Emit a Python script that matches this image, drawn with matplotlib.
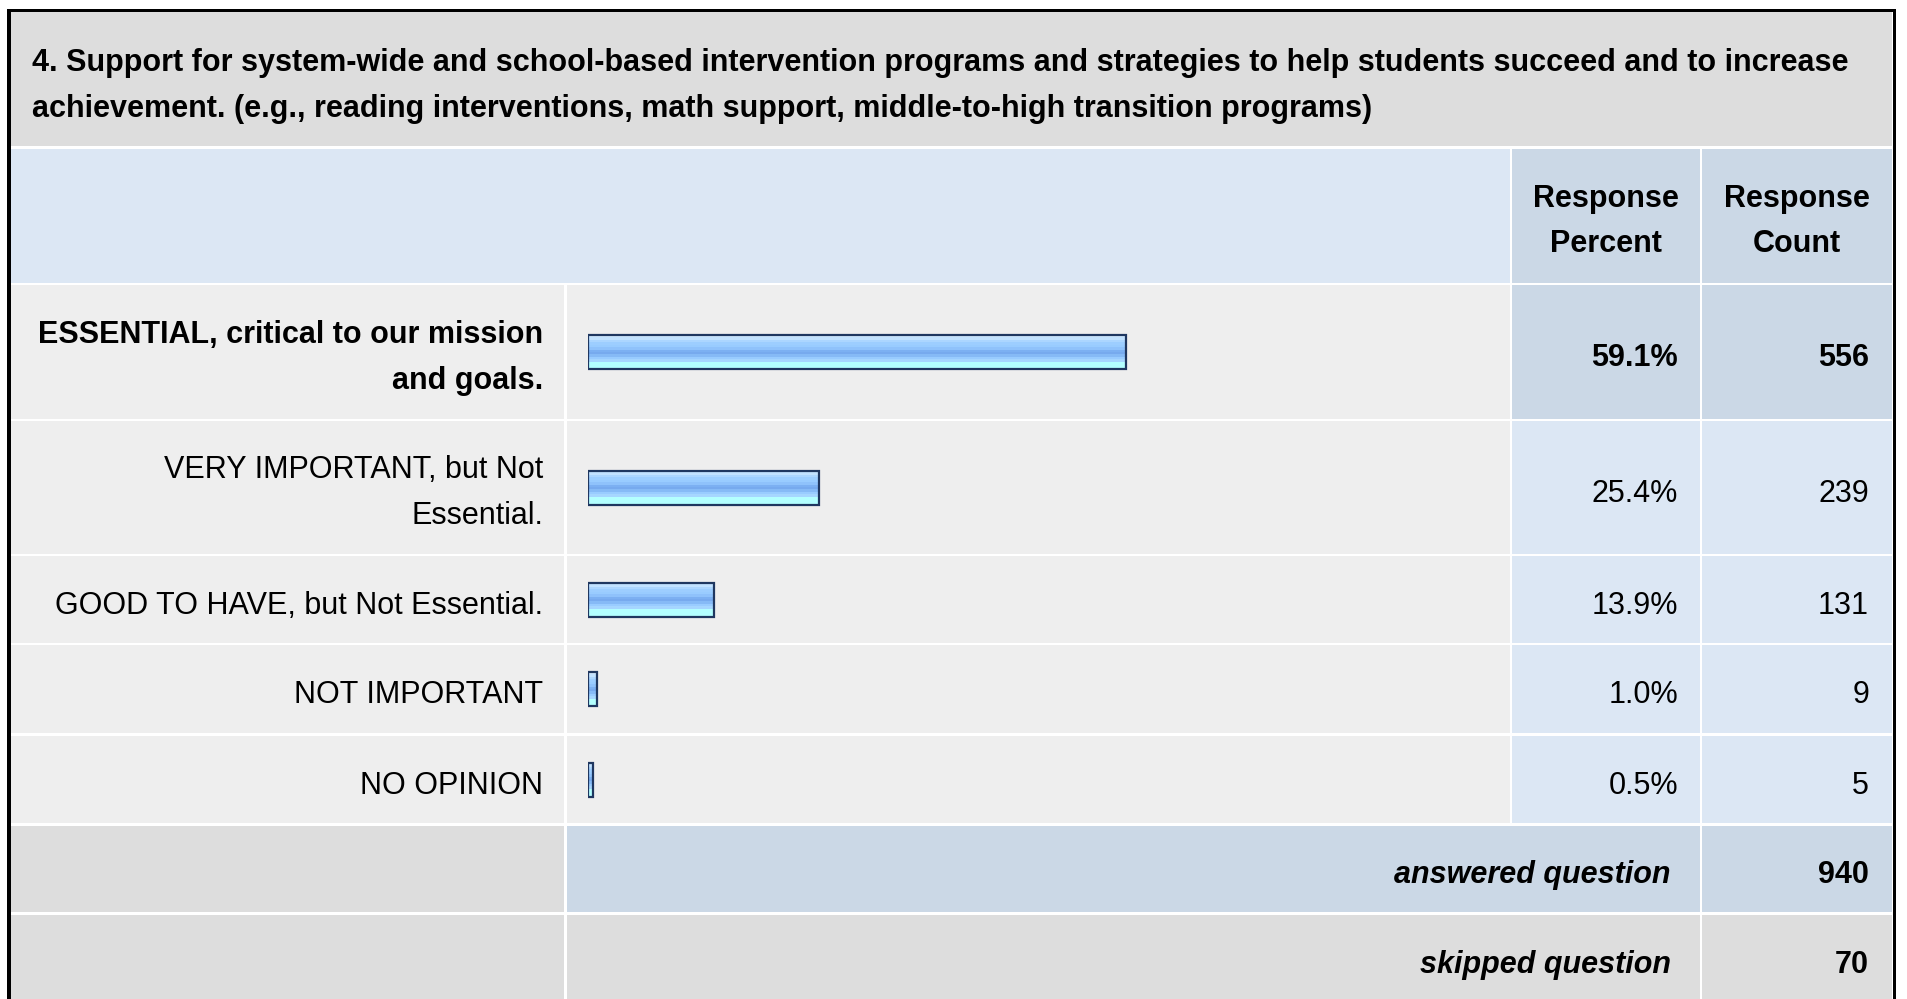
import matplotlib.pyplot as plt
from matplotlib.patches import Rectangle
import matplotlib.colors as mcolors
import numpy as np

plt.rcParams['font.family'] = ['Liberation Sans', 'DejaVu Sans']

# data
question = ("4. Support for system-wide and school-based intervention programs and strategies to help students succeed and to increase\n"
            "achievement. (e.g., reading interventions, math support, middle-to-high transition programs)")
answers = ["ESSENTIAL, critical to our mission\nand goals.",
           "VERY IMPORTANT, but Not\nEssential.",
           "GOOD TO HAVE, but Not Essential.",
           "NOT IMPORTANT",
           "NO OPINION"]
percents = [59.1, 25.4, 13.9, 1.0, 0.5]
counts = [556, 239, 131, 9, 5]
answered = 940
skipped = 70

W, H = 1907, 999
fig = plt.figure(figsize=(W / 100, H / 100), dpi=100)
ax = fig.add_axes([0, 0, 1, 1])
ax.set_xlim(0, W)
ax.set_ylim(H, 0)
ax.axis('off')

GRAY = '#dddddd'
ROW = '#eeeeee'
BLUE = '#dce7f4'
BLUE2 = '#cbd8e6'
FS = 22


def cell(x0, x1, y0, y1, color):
    ax.add_patch(Rectangle((x0, y0), x1 - x0, y1 - y0, facecolor=color, edgecolor='none'))


def put(x, yc, s, ha='right', weight='normal', style='normal', dy=3.5):
    lines = s.split('\n')
    n = len(lines)
    for i, line in enumerate(lines):
        base = yc + dy + 10.5 + (i - (n - 1) / 2) * 46
        ax.text(x, base, line, ha=ha, va='baseline', fontsize=FS,
                fontweight=weight, fontstyle=style, color='black')


# outer border
ax.add_patch(Rectangle((7, 9), 1889, 1010, facecolor='black', edgecolor='none'))
ax.add_patch(Rectangle((10.5, 11.5), 1882, 1010, facecolor='white', edgecolor='none'))

# column edges
c_lab = (11, 564)
c_bar = (567, 1510)
c_pct = (1512, 1700)
c_cnt = (1702, 1892)

# title
cell(11, 1892, 12, 146, GRAY)
put(32, 79, question, ha='left', weight='bold', dy=4.5)

# header
cell(11, 1510, 149, 283, BLUE)
cell(*c_pct, 149, 283, BLUE2)
cell(*c_cnt, 149, 283, BLUE2)
put(sum(c_pct) / 2, 216, "Response\nPercent", ha='center', weight='bold', dy=3)
put(sum(c_cnt) / 2, 216, "Response\nCount", ha='center', weight='bold', dy=3)

row_top = [285, 421, 556, 645, 736]
row_bot = [419, 554, 643, 733, 823]

ax_bar = fig.add_axes([588 / W, 0, 910 / W, 1])
ax_bar.axis('off')

grad = ['#d2eaff', '#c2e2ff', '#acd6ff', '#9dceff', '#99ccff', '#8fc2fb',
        '#7cb0f2', '#77aaee', '#86baf6', '#99ccff', '#a6d6ff', '#b3ffff',
        '#b3ffff', '#b3ffff']
grad_img = np.array([[mcolors.to_rgb(c)] for c in grad])

for i, (lab, p, c) in enumerate(zip(answers, percents, counts)):
    y0, y1 = row_top[i], row_bot[i]
    yc = (y0 + y1) / 2
    w = 'bold' if i == 0 else 'normal'
    side = BLUE2 if i == 0 else BLUE
    cell(*c_lab, y0, y1, ROW)
    cell(*c_bar, y0, y1, ROW)
    cell(*c_pct, y0, y1, side)
    cell(*c_cnt, y0, y1, side)
    put(543, yc, lab, weight=w)
    put(1678, yc, f"{p:.1f}%", weight=w)
    put(1869, yc, f"{c}", weight=w)
    ax_bar.imshow(grad_img, extent=(0, p, yc + 17, yc - 17), aspect='auto',
                  interpolation='nearest', zorder=2)
    ax_bar.barh(yc, p, height=34, left=0, color='none', edgecolor='#1f3760',
                linewidth=1.6, zorder=3)

ax_bar.set_xlim(0, 100)
ax_bar.set_ylim(H, 0)

# answered / skipped
cell(*c_lab, 826, 912, GRAY)
cell(567, 1700, 826, 912, BLUE2)
cell(*c_cnt, 826, 912, BLUE2)
put(1671, 869, "answered question", weight='bold', style='italic')
put(1869, 869, f"{answered}", weight='bold')

cell(*c_lab, 915, 1010, GRAY)
cell(567, 1700, 915, 1010, GRAY)
cell(*c_cnt, 915, 1010, GRAY)
put(1671, 959, "skipped question", weight='bold', style='italic')
put(1869, 959, f"{skipped}", weight='bold')

fig.savefig('out.png', dpi=100)
